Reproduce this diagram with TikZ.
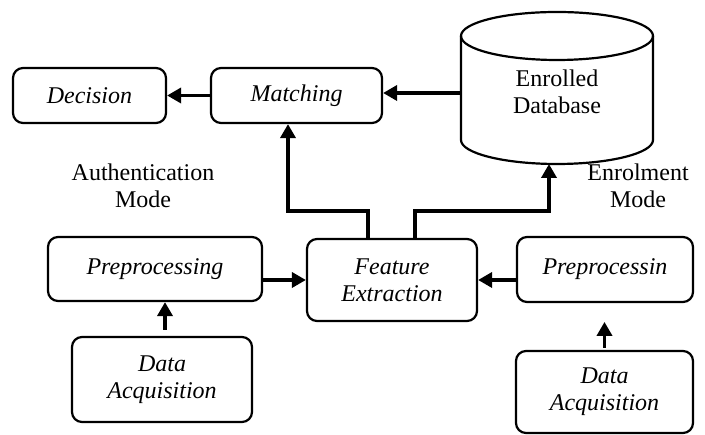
\documentclass[tikz,border=0pt]{standalone}
\usepackage{fontspec}
\setmainfont{Liberation Serif}
\usetikzlibrary{arrows.meta}
\begin{document}
\begin{tikzpicture}[x=1pt,y=1pt,
  blk/.style={draw, line width=2.2pt, rounded corners=10pt, align=center,
    font=\fontsize{24}{27}\selectfont\itshape, inner sep=0pt},
  lbl/.style={align=center, font=\fontsize{24}{27}\selectfont, inner sep=0pt},
  arr/.style={line width=3.5pt, -{Triangle[length=14pt,width=15pt]}}]
\useasboundingbox (0,0) rectangle (705,435);

% blocks
\node[blk, minimum width=153pt, minimum height=55pt] (dec) at (89.5,339.5) {Decision};
\node[blk, minimum width=171pt, minimum height=55pt] (mat) at (296.5,339.5) {Matching};
\node[blk, minimum width=170pt, minimum height=82pt] (fe) at (392,155) {Feature\\Extraction};
\node[blk, minimum width=214pt, minimum height=64pt] (lpre) at (155,166) {Preprocessing};
\node[blk, minimum width=176pt, minimum height=65pt] (rpre) at (605,165.5) {Preprocessin};
\node[blk, minimum width=180pt, minimum height=85pt] (lda) at (162,55.5) {Data\\Acquisition};
\node[blk, minimum width=177pt, minimum height=82pt] (rda) at (604.5,43) {Data\\Acquisition};

% database cylinder
\draw[line width=2.2pt] (461,399) -- (461,295) arc[start angle=180, end angle=360, x radius=96, y radius=24] -- (653,399);
\draw[line width=2.2pt] (557,399) ellipse[x radius=96, y radius=24];
\node[lbl] (db) at (557,343) {Enrolled\\Database};
\coordinate (dbleft) at (461,342);
\coordinate (dbbottom) at (549,271);

% mode labels
\node[lbl] (auth) at (143,249) {Authentication\\Mode};
\node[lbl] (enr) at (638,249) {Enrolment\\Mode};

% connectors
\coordinate (j1) at (288,224);
\coordinate (j2) at (549,224);
\draw[arr] (mat.west) -- (dec.east);
\draw[arr] (dbleft) -- (mat.east |- dbleft);
\draw[arr] ([xshift=-24pt]fe.north) |- (j1) -- (mat.south -| j1);
\draw[arr] ([xshift=23pt]fe.north) |- (j2) -- (dbbottom);
\draw[arr] (lpre.east |- fe.west) -- (fe.west);
\draw[arr] (rpre.west |- fe.east) -- (fe.east);
\draw[arr, shorten <=6pt] ([xshift=3pt]lda.north) -- ([xshift=3pt]lda.north |- lpre.south);
\draw[arr, shorten <=2pt] (rda.north) -- ++(0,28);
\end{tikzpicture}
\end{document}
